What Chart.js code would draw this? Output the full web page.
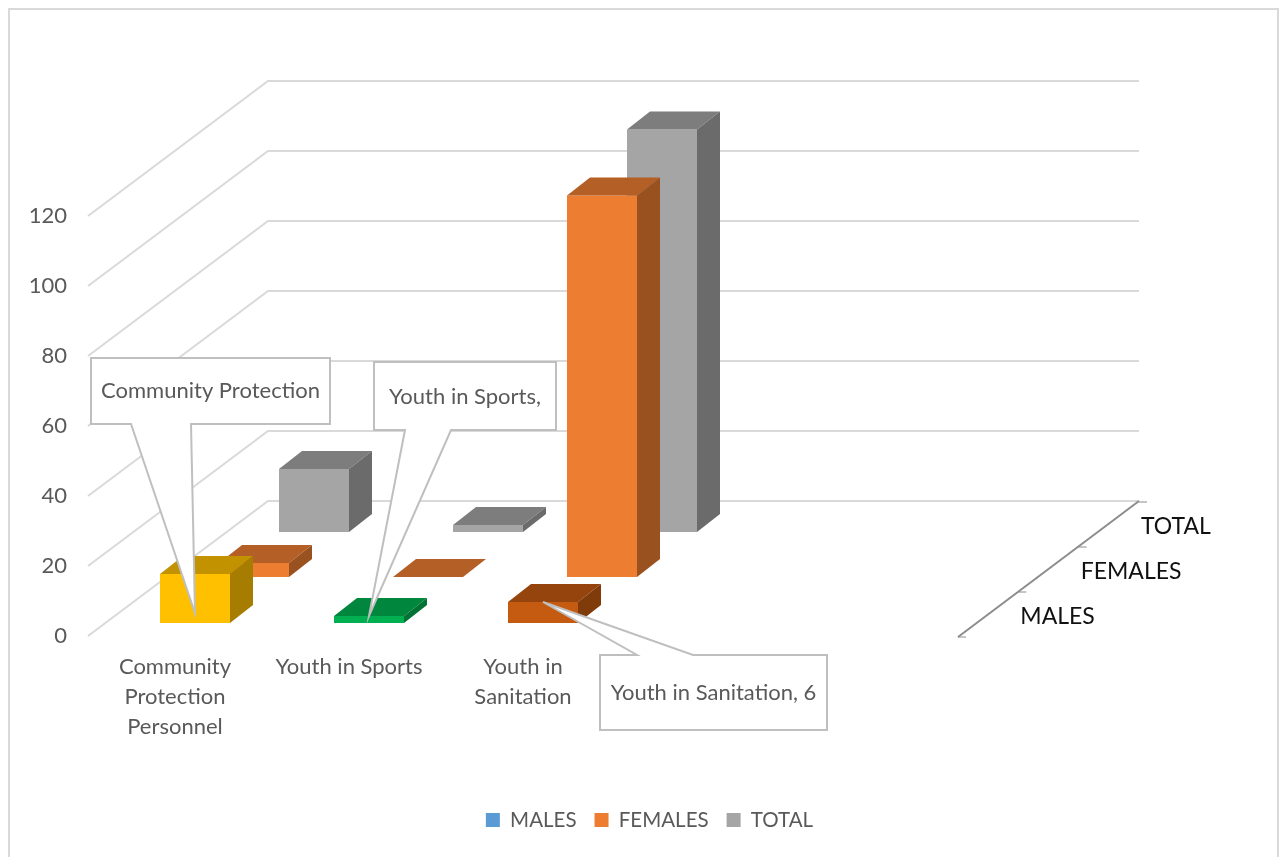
<!DOCTYPE html>
<html>
<head>
<meta charset="utf-8">
<title>Youth programme participants</title>
<script src="https://cdn.jsdelivr.net/npm/chart.js@4/dist/chart.umd.min.js"></script>
<style>
    html, body { margin: 0; padding: 0; background: #fff; }
    canvas { display: block; }
</style>
</head>
<body>
<canvas id="chart3d" width="1281" height="857"></canvas>
<script>
// --- DATA ---
const categories = [["Community", "Protection", "Personnel"], ["Youth in Sports"], ["Youth in", "Sanitation"], "", ""];
const seriesNames = ["MALES", "FEMALES", "TOTAL"];
const males = [14, 2, 6];
const females = [4, 0, 109];
const total = [18, 2, 115];
const legendColors = ["#5B9BD5", "#ED7D31", "#A5A5A5"];
const maleColors = ["#FFC000", "#00B050", "#C55A11"];
const calloutTexts = ["Community Protection", "Youth in Sports,", "Youth in Sanitation, 6"];

// --- 3D LOOK ---
const TEXT_COLOR = "#595959";
const FONT = "Lato";
const WALL_DX = 181, WALL_DY = 135;      // floor depth
const ROW_DX = [20, 79, 139];            // how far each series row sits back
const ROW_DY = [13, 59, 104];
const BAR_DX = 23, BAR_DY = 18;          // depth of one bar

const callouts = [
    { bar: 0, l: 91, t: 358, r: 330, b: 424, textY: 391, side: "b", gap: [131, 191], tipDown: 39 },
    { bar: 1, l: 374, t: 362, r: 556, b: 430, textY: 397, side: "b", gap: [405, 451], tipDown: 0 },
    { bar: 2, l: 600, t: 655, r: 827, b: 730, textY: 693, side: "t", gap: [637, 693], tipDown: 0 }
];

function shade(hex, factor) {
    const n = parseInt(hex.slice(1), 16);
    const c = [n >> 16, (n >> 8) & 255, n & 255].map(v => Math.round(v * factor));
    return `rgb(${c[0]},${c[1]},${c[2]})`;
}

function poly(ctx, pts, fill) {
    ctx.beginPath();
    pts.forEach((p, i) => i ? ctx.lineTo(p[0], p[1]) : ctx.moveTo(p[0], p[1]));
    ctx.closePath();
    ctx.fillStyle = fill;
    ctx.fill();
}

// page frame, walls and the depth axis
const wallsPlugin = {
    id: "walls",
    beforeDraw(chart) {
        const ctx = chart.ctx;
        ctx.save();
        ctx.fillStyle = "#fff";
        ctx.fillRect(0, 0, chart.width, chart.height);
        ctx.strokeStyle = "#D9D9D9";
        ctx.lineWidth = 2;
        ctx.strokeRect(9, 9, 1269, 870);
        ctx.restore();
    },
    beforeDatasetsDraw(chart) {
        const ctx = chart.ctx, y = chart.scales.y, area = chart.chartArea;
        ctx.save();
        ctx.strokeStyle = "#D9D9D9";
        ctx.lineWidth = 2;
        y.ticks.forEach(t => {
            const py = y.getPixelForValue(t.value);
            ctx.beginPath();
            ctx.moveTo(area.left, py);
            ctx.lineTo(area.left + WALL_DX - 1, py - WALL_DY);
            ctx.lineTo(area.right + WALL_DX, py - WALL_DY);
            ctx.stroke();
        });

        const x0 = area.right, y0 = area.bottom;
        ctx.strokeStyle = "#8C8C8C";
        ctx.beginPath();
        ctx.moveTo(x0, y0 + 1);
        ctx.lineTo(x0 + WALL_DX, y0 - WALL_DY);
        ctx.stroke();
        ctx.lineWidth = 1;
        ctx.font = `23px ${FONT}`;
        ctx.textBaseline = "middle";
        ctx.textAlign = "left";
        seriesNames.forEach((name, i) => {
            const bx = x0 + WALL_DX * i / 3, by = y0 - WALL_DY * i / 3;
            ctx.beginPath();
            ctx.moveTo(bx, by + 1);
            ctx.lineTo(bx + 8, by + 1);
            ctx.stroke();
            ctx.fillStyle = "#111";
            ctx.fillText(name, x0 + WALL_DX * (i + 1) / 3 + 2, y0 - WALL_DY * (i + 1) / 3 + 26);
        });
        ctx.beginPath();
        ctx.moveTo(x0 + WALL_DX, y0 - WALL_DY + 1);
        ctx.lineTo(x0 + WALL_DX + 8, y0 - WALL_DY + 1);
        ctx.stroke();
        ctx.restore();
    },
    // the library draws the front face, moved back to the row of the series
    beforeDatasetDraw(chart, args) {
        chart.ctx.save();
        chart.ctx.translate(ROW_DX[args.index], -ROW_DY[args.index]);
    },
    afterDatasetDraw(chart, args) {
        const ctx = chart.ctx;
        args.meta.data.forEach((bar, i) => {
            const color = chart.data.datasets[args.index].backgroundColor[i];
            const l = bar.x - bar.width / 2, r = bar.x + bar.width / 2;
            const top = bar.y, base = bar.base;
            poly(ctx, [[l, top], [r, top], [r + BAR_DX, top - BAR_DY], [l + BAR_DX, top - BAR_DY]], shade(color, 0.76));
            poly(ctx, [[r, top], [r + BAR_DX, top - BAR_DY], [r + BAR_DX, base - BAR_DY], [r, base]], shade(color, 0.65));
        });
        ctx.restore();
    },
    afterDatasetsDraw(chart) {
        const ctx = chart.ctx;
        const bars = chart.getDatasetMeta(0).data;
        callouts.forEach((c, i) => {
            const tipX = bars[c.bar].x + ROW_DX[0];
            const tipY = bars[c.bar].y - ROW_DY[0] + c.tipDown;
            const pts = c.side === "b"
                ? [[c.l, c.t], [c.r, c.t], [c.r, c.b], [c.gap[1], c.b], [tipX, tipY], [c.gap[0], c.b], [c.l, c.b]]
                : [[c.l, c.t], [c.gap[0], c.t], [tipX, tipY], [c.gap[1], c.t], [c.r, c.t], [c.r, c.b], [c.l, c.b]];
            ctx.save();
            poly(ctx, pts, "#fff");
            ctx.strokeStyle = "#BFBFBF";
            ctx.lineWidth = 2;
            ctx.stroke();
            ctx.fillStyle = TEXT_COLOR;
            ctx.font = `22px ${FONT}`;
            ctx.textAlign = "center";
            ctx.textBaseline = "middle";
            ctx.fillText(calloutTexts[i], (c.l + c.r) / 2, c.textY);
            ctx.restore();
        });
    }
};

const seriesValues = [males, females, total];
const seriesColors = [
    maleColors,
    females.map(() => legendColors[1]),
    total.map(() => legendColors[2])
];

new Chart(document.getElementById("chart3d"), {
    type: "bar",
    plugins: [wallsPlugin],
    data: {
        labels: categories,
        datasets: seriesNames.map((name, i) => ({
            label: name,
            data: seriesValues[i],
            backgroundColor: seriesColors[i],
            borderWidth: 0,
            clip: false
        }))
    },
    options: {
        responsive: false,
        animation: false,
        datasets: { bar: { grouped: false, categoryPercentage: 1, barPercentage: 70 / 174 } },
        layout: { padding: { left: 18, right: 0, top: 216, bottom: 16.75 } },
        scales: {
            x: {
                grid: { display: false, drawTicks: false },
                border: { display: false },
                ticks: {
                    color: TEXT_COLOR,
                    font: { family: FONT, size: 22, lineHeight: "30px" },
                    padding: 16,
                    maxRotation: 0,
                    autoSkip: false
                },
                afterFit(scale) { scale.height = 155.75; }
            },
            y: {
                min: 0,
                max: 120,
                grid: { display: false, drawTicks: false },
                border: { display: false },
                ticks: {
                    stepSize: 20,
                    color: TEXT_COLOR,
                    font: { family: FONT, size: 22 },
                    padding: 21
                },
                afterFit(scale) { scale.width = 70; }
            },
            // empty box that keeps the plot clear of the depth axis
            side: {
                position: "right",
                grid: { display: false, drawTicks: false },
                border: { display: false },
                ticks: { display: false },
                afterFit(scale) { scale.width = 323; }
            }
        },
        plugins: {
            tooltip: { enabled: false },
            legend: {
                position: "bottom",
                labels: {
                    color: TEXT_COLOR,
                    font: { family: FONT, size: 20.5 },
                    boxWidth: 14,
                    boxHeight: 14,
                    padding: 18,
                    generateLabels: () => seriesNames.map((name, i) => ({
                        text: name,
                        fillStyle: legendColors[i],
                        strokeStyle: legendColors[i],
                        fontColor: TEXT_COLOR,
                        lineWidth: 0,
                        datasetIndex: i
                    }))
                }
            }
        }
    }
});
</script>
</body>
</html>
